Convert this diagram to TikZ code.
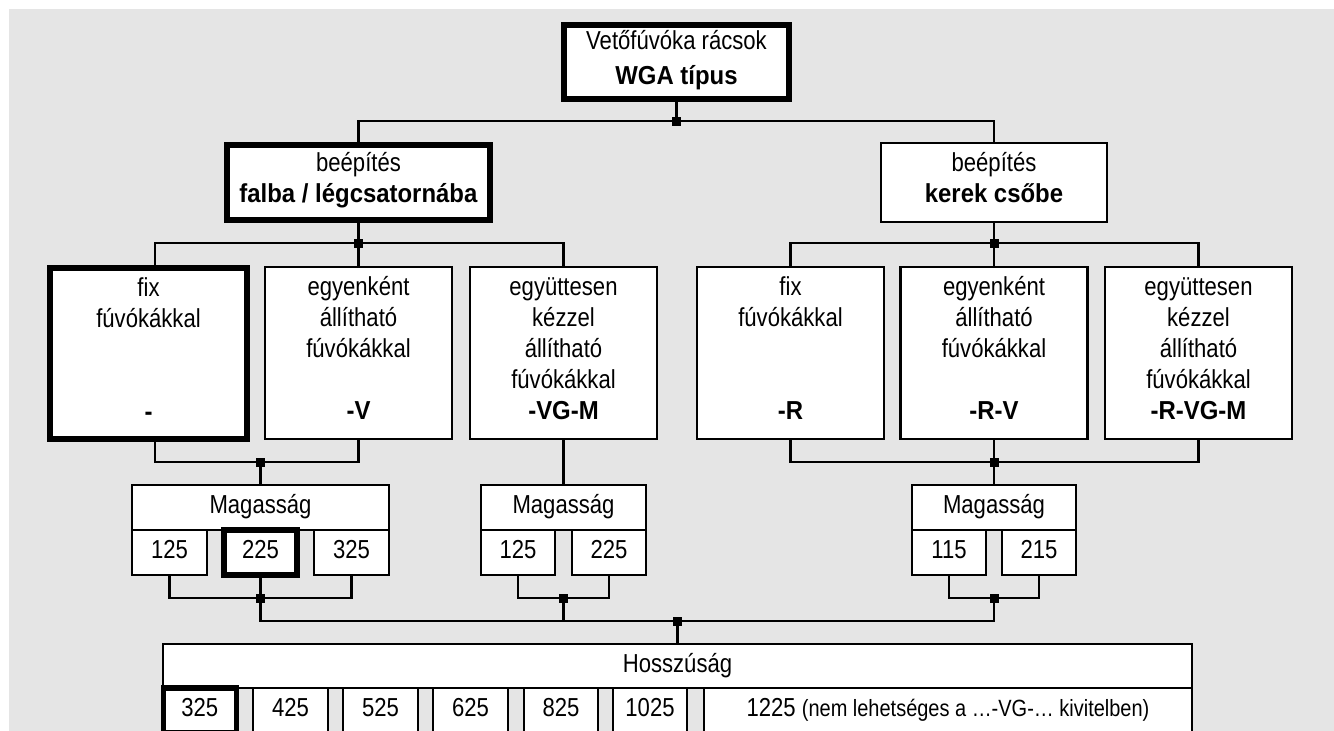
\documentclass[tikz,border=0pt]{standalone}
\usepackage{fontspec}
\setmainfont{Liberation Sans}[FakeStretch=0.85, BoldFeatures={FakeStretch=0.92}]
\usepackage{xcolor}
\definecolor{bggray}{RGB}{229, 229, 229}
\usetikzlibrary{positioning}

\tikzset{
  box/.style={draw, fill=white, line width=2.4pt, inner sep=0pt, outer sep=0pt, align=center,
              font=\fontsize{26}{31}\selectfont,
              execute at begin node=\strut, execute at end node=\strut},
  boxsel/.style={box, line width=5.5pt},
  col/.style={box, minimum width=187pt, minimum height=171.5pt},
  cell/.style={box, minimum width=74.5pt, minimum height=45pt},
  knot/.style={fill=black, minimum size=9pt, inner sep=0pt, outer sep=0pt},
  wire/.style={line width=2.4pt}
}

\begin{document}
\begin{tikzpicture}[x=1pt, y=-1pt]
    \useasboundingbox (0,0) rectangle (1334,731);
    \clip (0,0) rectangle (1334,731);
    \fill[bggray] (9,9) rectangle (1334,731);

    \node[boxsel, minimum width=225pt, minimum height=74pt]
         (top) at (676.5,62) {Vetőfúvóka rácsok\\[4pt]\textbf{WGA típus}};
    \node[boxsel, minimum width=263pt, minimum height=75pt]
         (wall) at (358.5,182.5) {beépítés\\\textbf{falba / légcsatornába}};
    \node[box, minimum width=225.5pt, minimum height=78.5pt]
         (pipe) at (994,182.5) {beépítés\\\textbf{kerek csőbe}};

    \node[col, line width=5.5pt, minimum width=197pt, minimum height=171pt]
         (fix) at (148.5,353.5) {fix\\fúvókákkal\\~\\~\\\textbf{-}};
    \node[col] (indiv) at (358.5,353) {egyenként\\állítható\\fúvókákkal\\~\\\textbf{-V}};
    \node[col] (joint) at (563.5,353) {együttesen\\kézzel\\állítható\\fúvókákkal\\\textbf{-VG-M}};
    \node[col] (rfix) at (790.5,353) {fix\\fúvókákkal\\~\\~\\\textbf{-R}};
    \node[col] (rindiv) at (994,353) {egyenként\\állítható\\fúvókákkal\\~\\\textbf{-R-V}};
    \node[col] (rjoint) at (1198.5,353) {együttesen\\kézzel\\állítható\\fúvókákkal\\\textbf{-R-VG-M}};

    \node[box, minimum width=256.5pt, minimum height=44.5pt] (mag1) at (260.5,507.5) {Magasság};
    \node[cell, below=0pt of mag1.south west, anchor=north west] (m125) {125};
    \node[cell, line width=5.5pt, minimum width=73pt, below=0pt of mag1.south] (m225) {225};
    \node[cell, below=0pt of mag1.south east, anchor=north east] (m325) {325};

    \node[box, minimum width=165.5pt, minimum height=44.5pt] (mag2) at (563.5,507.5) {Magasság};
    \node[cell, below=0pt of mag2.south west, anchor=north west] (n125) {125};
    \node[cell, below=0pt of mag2.south east, anchor=north east] (n225) {225};

    \node[box, minimum width=164.5pt, minimum height=44.5pt] (mag3) at (994,507.5) {Magasság};
    \node[cell, below=0pt of mag3.south west, anchor=north west] (r115) {115};
    \node[cell, below=0pt of mag3.south east, anchor=north east] (r215) {215};

    \node[box, minimum width=1028.5pt, minimum height=43.5pt] (len) at (677.5,666) {Hosszúság};
    \node[cell, line width=5.5pt, minimum width=73pt,
          below=0pt of len.south west, anchor=north west] (l325) {325};
    \node[cell, right=17pt of l325] (l425) {425};
    \node[cell, right=15.5pt of l425] (l525) {525};
    \node[cell, right=15.5pt of l525] (l625) {625};
    \node[cell, right=16pt of l625] (l825) {825};
    \node[cell, right=14.5pt of l825] (l1025) {1025};
    \node[cell, minimum width=487.5pt, below=0pt of len.south east, anchor=north east]
         (l1225) {1225 {\fontsize{23.5}{31}\selectfont (nem lehetséges a …-VG-… kivitelben)}};

    \node[knot] (jt) at (676.5,121) {};
    \node[knot] (jl) at (358.5,243) {};
    \node[knot] (jr) at (994,243) {};
    \node[knot] (jbl) at (260.5,462) {};
    \node[knot] (jbr) at (994,462) {};
    \node[knot] (jm1) at (260.5,598) {};
    \node[knot] (jm2) at (563.5,598) {};
    \node[knot] (jm3) at (994,598) {};
    \node[knot] (jh) at (677.5,621) {};

    \draw[wire] (top) -- (jt);
    \draw[wire] (wall) |- (jt) -| (pipe);
    \draw[wire] ([xshift=6.5pt]fix.north) |- (jl) -| (joint);
    \draw[wire] (indiv) -- (jl) -- (wall);
    \draw[wire] (rfix) |- (jr) -| (rjoint);
    \draw[wire] (rindiv) -- (jr) -- (pipe);
    \draw[wire] ([xshift=6.5pt]fix.south) |- (jbl) -| (indiv);
    \draw[wire] (jbl) -- (mag1);
    \draw[wire] (rfix) |- (jbr) -| (rjoint);
    \draw[wire] (rindiv) -- (jbr) -- (mag3);
    \draw[wire] (joint) -- (mag2);
    \draw[wire] (m125) |- (jm1) -| (m325);
    \draw[wire] (m225) -- (jm1);
    \draw[wire] (n125) |- (jm2) -| (n225);
    \draw[wire] (r115) |- (jm3) -| (r215);
    \draw[wire] (jm1) |- (jh);
    \draw[wire] (jm3) |- (jh);
    \draw[wire] (jm2) -- (jm2 |- jh);
    \draw[wire] (jh) -- (len);
\end{tikzpicture}
\end{document}
